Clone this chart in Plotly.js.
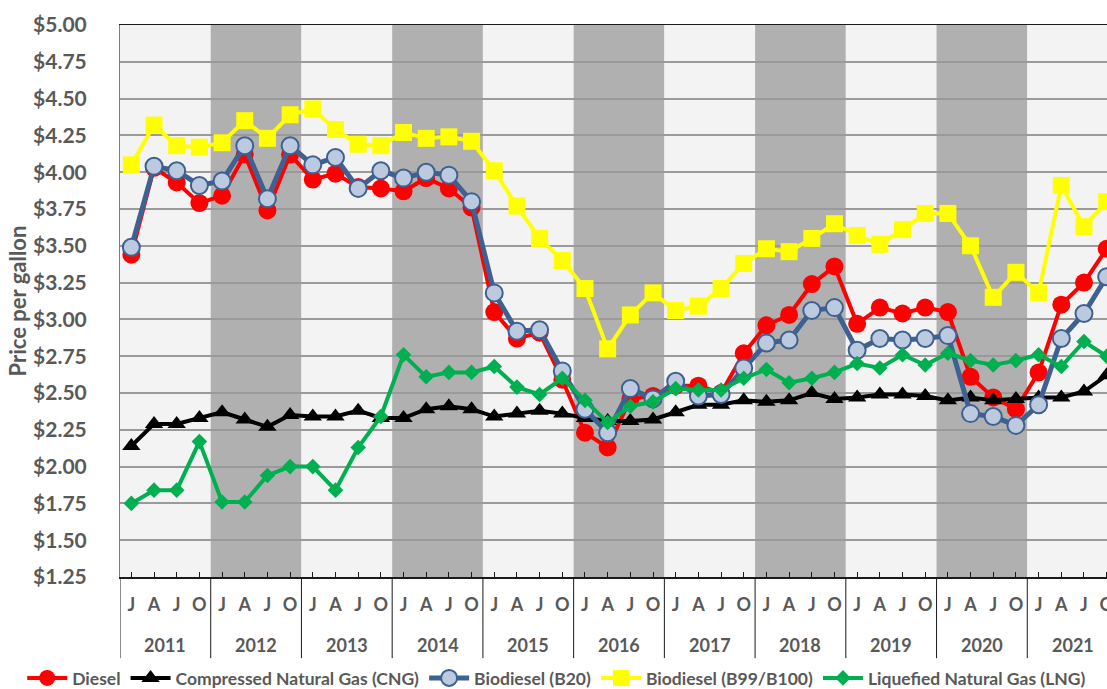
<!DOCTYPE html>
<html>
<head>
<meta charset="utf-8">
<script src="https://cdn.plot.ly/plotly-3.0.1.min.js"></script>
<style>
html,body{margin:0;padding:0;overflow:hidden;background:#fff;}
#chart{width:1130px;height:710px;}
</style>
</head>
<body>
<div id="chart"></div>
<script>
// ---- data ----
const years = ['2011','2012','2013','2014','2015','2016','2017','2018','2019','2020','2021'];
const quarters = ['J','A','J','O'];

const diesel = [3.44,4.03,3.93,3.79, 3.84,4.12,3.74,4.12, 3.95,3.99,3.90,3.89, 3.87,3.96,3.89,3.76,
                3.05,2.87,2.91,2.59, 2.23,2.13,2.46,2.48, 2.55,2.55,2.50,2.77, 2.96,3.03,3.24,3.36,
                2.97,3.08,3.04,3.08, 3.05,2.61,2.47,2.39, 2.64,3.10,3.25,3.48];
const cng = [2.14,2.29,2.29,2.33, 2.37,2.32,2.27,2.35, 2.34,2.34,2.38,2.33, 2.33,2.39,2.41,2.39,
             2.34,2.36,2.38,2.36, 2.33,2.31,2.31,2.32, 2.37,2.42,2.42,2.45, 2.44,2.45,2.50,2.46,
             2.47,2.49,2.49,2.48, 2.45,2.47,2.45,2.46, 2.47,2.47,2.51,2.62];
const b20 = [3.49,4.04,4.01,3.91, 3.94,4.18,3.82,4.18, 4.05,4.10,3.89,4.01, 3.96,4.00,3.98,3.80,
             3.18,2.92,2.93,2.65, 2.39,2.23,2.53,2.46, 2.58,2.48,2.49,2.67, 2.84,2.86,3.06,3.08,
             2.79,2.87,2.86,2.87, 2.89,2.36,2.34,2.28, 2.42,2.87,3.04,3.29];
const b100 = [4.05,4.32,4.18,4.17, 4.20,4.35,4.23,4.39, 4.43,4.29,4.19,4.18, 4.27,4.23,4.24,4.21,
              4.01,3.77,3.55,3.40, 3.21,2.80,3.03,3.18, 3.06,3.09,3.21,3.38, 3.48,3.46,3.55,3.65,
              3.57,3.51,3.61,3.72, 3.72,3.50,3.15,3.32, 3.18,3.91,3.63,3.80];
const lng = [1.75,1.84,1.84,2.17, 1.76,1.76,1.94,2.00, 2.00,1.84,2.13,2.34, 2.76,2.61,2.64,2.64,
             2.68,2.54,2.49,2.60, 2.45,2.30,2.41,2.44, 2.53,2.52,2.52,2.60, 2.66,2.57,2.60,2.64,
             2.70,2.67,2.76,2.69, 2.77,2.72,2.69,2.72, 2.76,2.68,2.85,2.75];

const seriesNames = ['Diesel','Compressed Natural Gas (CNG)','Biodiesel (B20)','Biodiesel (B99/B100)','Liquefied Natural Gas (LNG)'];
const yTickVals = [1.25,1.50,1.75,2.00,2.25,2.50,2.75,3.00,3.25,3.50,3.75,4.00,4.25,4.50,4.75,5.00];

// ---- derived: quarter index positions and labels ----
const qIdx = [], qText = [];
years.forEach((y, yi) => quarters.forEach((q, qi) => { qIdx.push(yi * quarters.length + qi); qText.push(q); }));
const nQ = quarters.length;

const gray = '#595959';
function tr(name, y, lineColor, lineW, sym, size, fill, mline) {
  return {
    type: 'scatter', mode: 'lines+markers', name: name, x: qIdx, y: y,
    line: {color: lineColor, width: lineW},
    marker: {symbol: sym, size: size, color: fill, line: mline || {width: 0}}
  };
}

const traces = [
  tr(seriesNames[0], diesel, '#ff0000', 4, 'circle', 18, '#ff0000'),
  tr(seriesNames[1], cng, '#000000', 4, 'triangle-up', 16, '#000000'),
  tr(seriesNames[2], b20, '#3e6191', 5, 'circle', 17, '#bccae0', {color: '#3e6191', width: 2}),
  tr(seriesNames[3], b100, '#ffff00', 4, 'square', 17, '#ffff00'),
  tr(seriesNames[4], lng, '#00b050', 4, 'diamond', 12, '#00b050')
];

// alternating year bands (background) and year dividers below axis
const shapes = [];
years.forEach((y, i) => {
  shapes.push({
    type: 'rect', layer: 'below', xref: 'x', yref: 'paper',
    x0: i * nQ - 0.5, x1: (i + 1) * nQ - 0.5, y0: 0, y1: 1,
    fillcolor: (i % 2 === 0) ? '#f3f3f3' : '#b0b0b0',
    line: {width: 0}
  });
});
for (let i = 0; i <= years.length; i++) {
  shapes.push({
    type: 'line', layer: 'above', xref: 'x', yref: 'paper',
    x0: i * nQ - 0.5, x1: i * nQ - 0.5, y0: 0, y1: -0.147,
    line: {color: '#1a1a1a', width: 1}
  });
}

const annotations = years.map((y, i) => ({
  xref: 'x', yref: 'paper', x: i * nQ + (nQ - 1) / 2, y: -0.123,
  xanchor: 'center', yanchor: 'middle', showarrow: false, text: y,
  font: {size: 18, color: gray, weight: 700}
}));

const layout = {
  width: 1130, height: 710,
  margin: {l: 120, r: 12, t: 25, b: 133},
  paper_bgcolor: '#ffffff', plot_bgcolor: '#f3f3f3',
  font: {family: 'Lato, "Open Sans", sans-serif', color: gray, size: 16, weight: 700},
  showlegend: true,
  legend: {
    orientation: 'h', xref: 'paper', x: -0.098, xanchor: 'left',
    yref: 'paper', y: -0.183, yanchor: 'middle',
    font: {size: 17.5, color: gray, weight: 700}, bgcolor: 'rgba(0,0,0,0)',
    itemwidth: 40, tracegroupgap: 0
  },
  xaxis: {
    type: 'linear', range: [-0.5, qIdx.length - 0.5],
    tickvals: qIdx, ticktext: qText, tickangle: 0,
    showgrid: false, zeroline: false, automargin: false,
    showline: true, linecolor: '#1a1a1a', linewidth: 1.5, mirror: true,
    ticks: 'inside', ticklen: 5, tickcolor: '#1a1a1a', tickwidth: 1,
    ticklabelstandoff: 11,
    tickfont: {size: 18, color: gray, weight: 700},
    fixedrange: true
  },
  yaxis: {
    range: [1.25, 5.0], tickvals: yTickVals, tickformat: '$.2f',
    showgrid: true, gridcolor: '#9a9a9a', gridwidth: 2,
    showline: true, linecolor: '#7f7f7f', linewidth: 1,
    zeroline: false, ticks: '', ticklabelstandoff: 28, automargin: false,
    tickfont: {size: 21, color: gray, weight: 700},
    title: {text: 'Price per gallon', font: {size: 22, color: gray, weight: 700}, standoff: 0},
    fixedrange: true
  },
  shapes: shapes,
  annotations: annotations
};

Plotly.newPlot('chart', traces, layout, {staticPlot: true, displayModeBar: false});
</script>
</body>
</html>
